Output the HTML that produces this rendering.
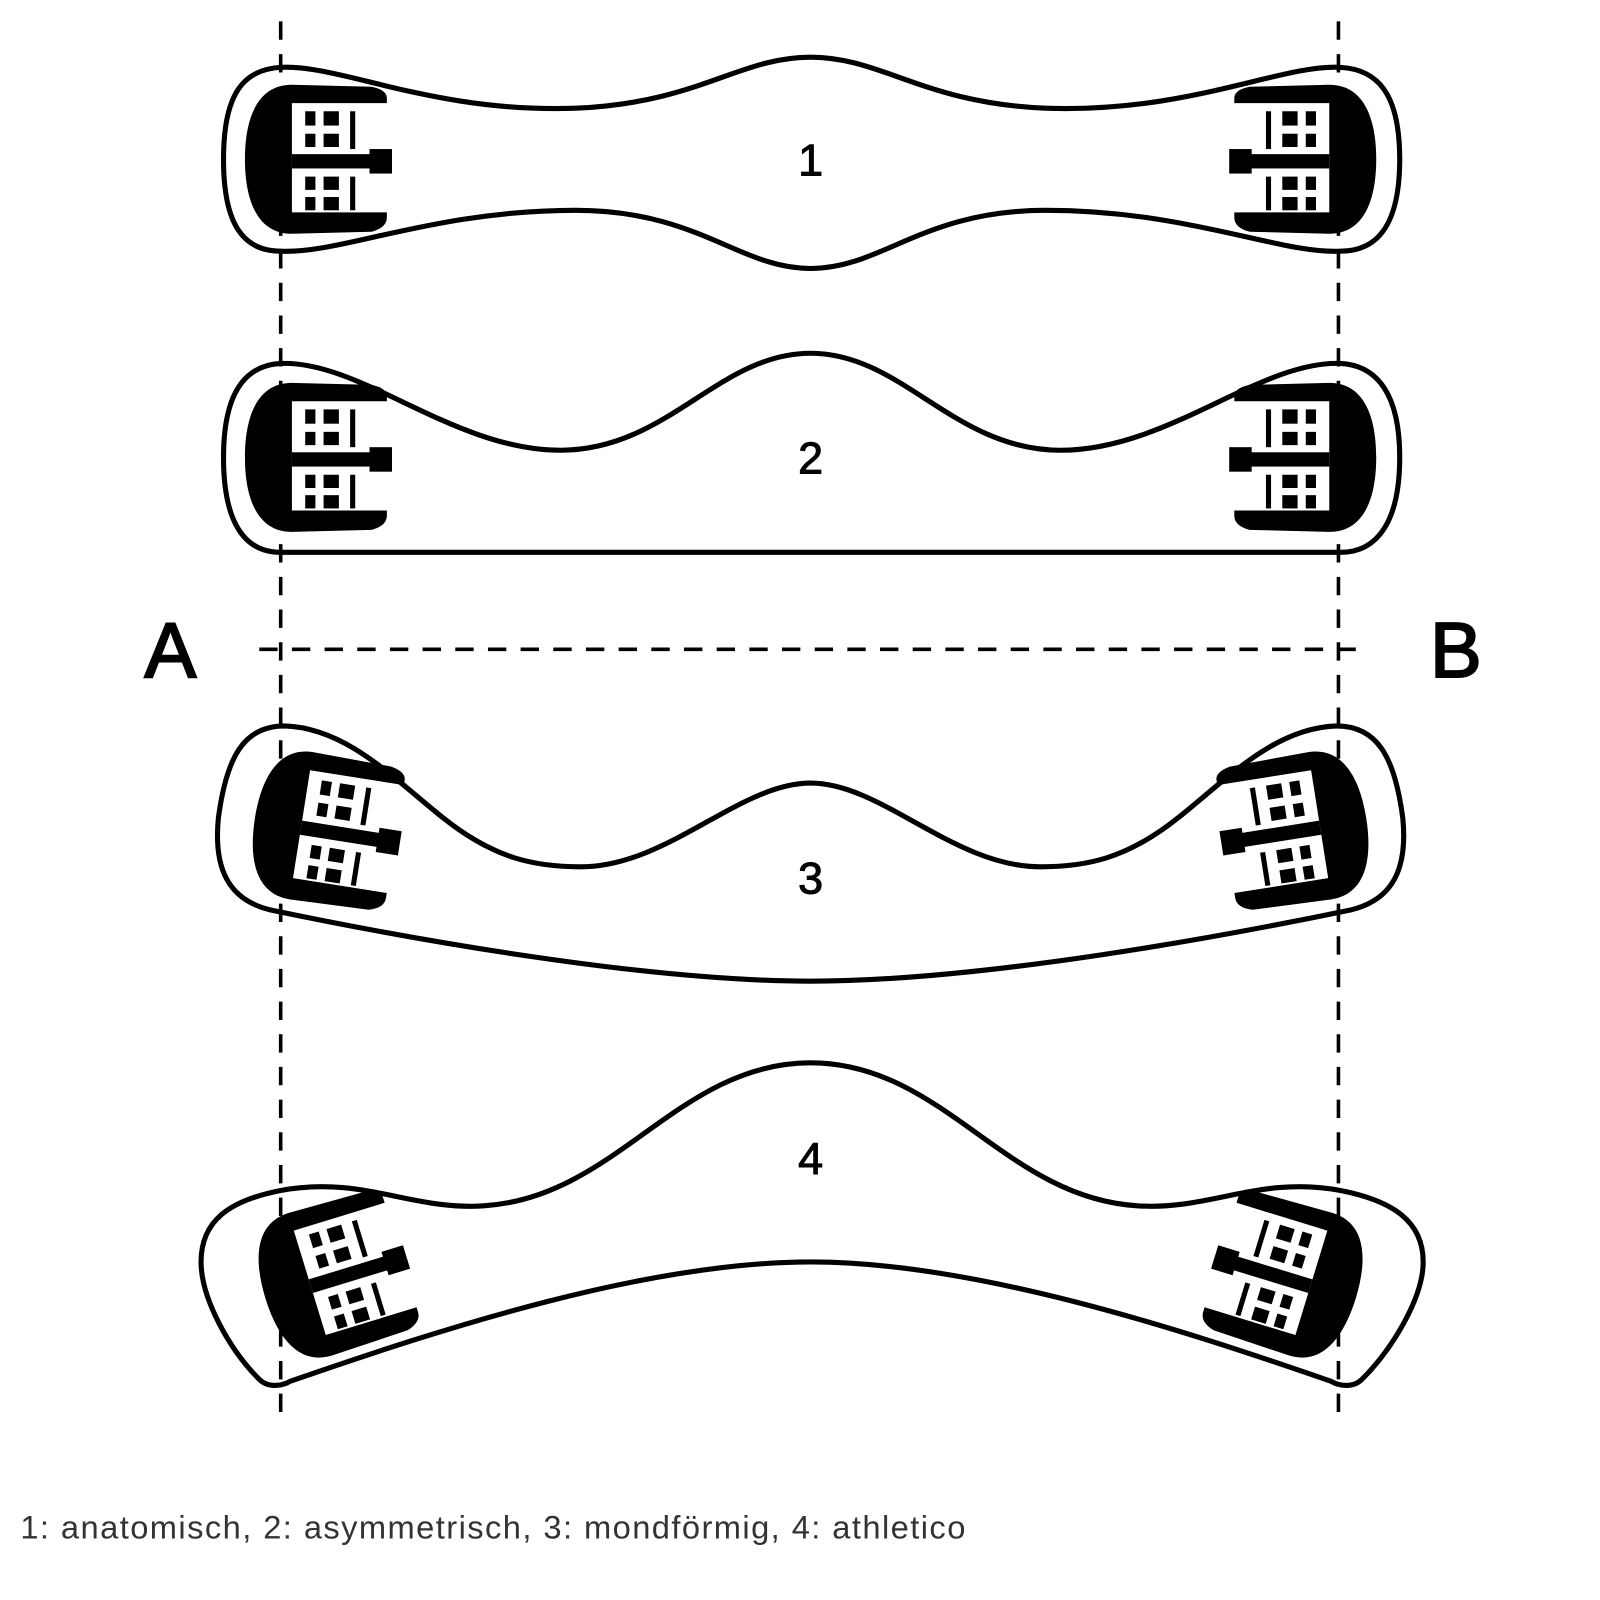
<!DOCTYPE html>
<html><head><meta charset="utf-8"><style>
html,body{margin:0;padding:0;background:#fff;}
svg{display:block;}
</style></head><body>
<svg width="1600" height="1600" viewBox="0 0 1600 1600" xmlns="http://www.w3.org/2000/svg">
<defs>
<g id="b">
<path d="M 11,-75 C -23,-75 -35,-42 -35,-2 C -35,38 -23,71 11,71 L 89,69 Q 104,65 104,55 L 104,50 L 11,50 L 11,-57 L 104,-57 L 104,-62 Q 104,-70 89,-73 Z" fill="#000"/>
<rect x="11" y="-7" width="80" height="14" fill="#000"/>
<rect x="87" y="-12" width="22" height="24" fill="#000"/>
<rect x="24" y="-49" width="10" height="14"/><rect x="42" y="-49" width="15" height="14"/>
<rect x="24" y="-27" width="10" height="13"/><rect x="42" y="-27" width="15" height="13"/>
<rect x="68" y="-49" width="5" height="37"/>
<rect x="24" y="15" width="10" height="13"/><rect x="42" y="15" width="15" height="13"/>
<rect x="24" y="35" width="10" height="13"/><rect x="42" y="35" width="15" height="13"/>
<rect x="68" y="15" width="5" height="33"/>
</g>
</defs>
<g transform="translate(4,1) scale(1.021)">
<g stroke="#000" stroke-width="3.5" stroke-dasharray="18 14" fill="none">
<line x1="271" y1="20" x2="271" y2="1395"/>
<line x1="1307" y1="20" x2="1307" y2="1395"/>
<line x1="250" y1="635" x2="1325" y2="635"/>
</g>
<g fill="none" stroke="#000" stroke-width="5">
<path d="M 271,65 C 330,62 420,110 560,105 C 680,100 720,55 790,55 C 860,55 900,100 1020,105 C 1160,110 1250,62 1309,65 C 1345,67 1367,90 1367,155 C 1367,220 1345,245 1309,245 C 1250,248 1160,205 1020,205 C 900,205 860,262 790,262 C 720,262 680,205 560,205 C 420,205 330,248 271,245 C 235,245 215,220 215,155 C 215,90 235,67 271,65 Z"/>
<path d="M 271,355 C 350,352 440,440 545,440 C 650,440 700,345 790,345 C 880,345 930,440 1035,440 C 1140,440 1230,352 1309,355 C 1345,357 1367,385 1367,447 C 1367,510 1345,540 1309,540 L 271,540 C 235,540 215,510 215,447 C 215,385 235,357 271,355 Z"/>
<path d="M 275,710 C 335,712 380,760 430,800 C 480,840 520,848 565,848 C 650,848 720,766 790,766 C 860,766 930,848 1015,848 C 1060,848 1100,840 1150,800 C 1200,760 1245,712 1305,710 C 1345,710 1362,740 1370,800 C 1375,850 1360,880 1320,890 C 1200,915 960,960 790,960 C 620,960 380,915 260,890 C 220,880 205,850 210,800 C 218,740 235,710 275,710 Z"/>
<path d="M 271,1165 C 350,1150 400,1185 470,1180 C 600,1172 660,1040 790,1040 C 920,1040 980,1172 1110,1180 C 1180,1185 1230,1150 1309,1165 C 1360,1175 1390,1195 1390,1235 C 1390,1270 1360,1320 1330,1350 C 1320,1360 1305,1355 1300,1352 C 1150,1300 950,1235 790,1235 C 630,1235 430,1300 280,1352 C 275,1355 260,1360 250,1350 C 220,1320 193,1270 193,1235 C 193,1195 220,1175 271,1165 Z"/>
</g>
<use href="#b" transform="translate(271,157)"/>
<use href="#b" transform="translate(1580,0) scale(-1,1) translate(271,157)"/>
<use href="#b" transform="translate(271,449)"/>
<use href="#b" transform="translate(1580,0) scale(-1,1) translate(271,449)"/>
<use href="#b" transform="translate(280,808) rotate(9)"/>
<use href="#b" transform="translate(1580,0) scale(-1,1) translate(280,808) rotate(9)"/>
<use href="#b" transform="translate(290,1262) rotate(-17)"/>
<use href="#b" transform="translate(1580,0) scale(-1,1) translate(290,1262) rotate(-17)"/>
<g font-family="Liberation Sans, sans-serif" fill="#000" text-anchor="middle" stroke="#000" stroke-width="1">
<text x="790" y="171" font-size="44">1</text>
<text x="790" y="463" font-size="44">2</text>
<text x="790" y="874" font-size="44">3</text>
<text x="790" y="1149" font-size="44">4</text>
<text x="163" y="662" font-size="76" stroke-width="2">A</text>
<text x="1422" y="662" font-size="76" stroke-width="2">B</text>
</g>
<text x="16" y="1506" font-family="Liberation Sans, sans-serif" font-size="32" letter-spacing="1.4" fill="#333">1: anatomisch, 2: asymmetrisch, 3: mondförmig, 4: athletico</text>
</g>
</svg>
</body></html>
